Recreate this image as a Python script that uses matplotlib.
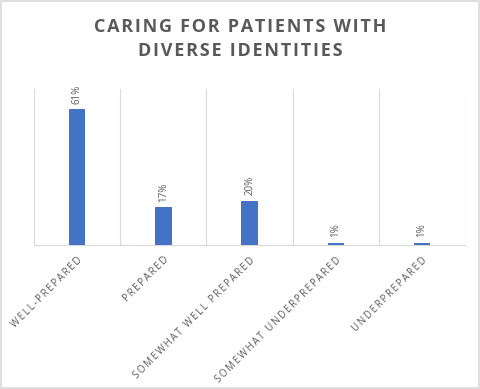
import matplotlib.pyplot as plt
import numpy as np

categories = ["WELL-PREPARED", "PREPARED", "SOMEWHAT WELL PREPARED",
              "SOMEWHAT UNDERPREPARED", "UNDERPREPARED"]
values = [0.61, 0.17, 0.20, 0.01, 0.01]
value_labels = ["61%", "17%", "20%", "1%", "1%"]
title_lines = ["CARING FOR PATIENTS WITH", "DIVERSE IDENTITIES"]

GREY = "#595959"
LINE = "#d9d9d9"
FONTS = ["Open Sans", "DejaVu Sans"]


def spaced(text, gap="\u2009"):
    # spread the letters a little, like the tracking in the original
    return gap.join(text)


fig = plt.figure(figsize=(4.8, 3.89), dpi=100)
ax = fig.add_axes([0.071, 0.370, 0.898, 0.401])

x = np.arange(len(categories))
ax.bar(x, values, width=0.19, color="#4472c4", zorder=3)

for xi, v, lab in zip(x, values, value_labels):
    ax.annotate(lab, (xi, v), xytext=(0, 4), textcoords="offset points",
                rotation=90, ha="center", va="bottom", fontsize=7,
                color=GREY, family=FONTS)

ax.set_xlim(-0.5, len(categories) - 0.5)
ax.set_ylim(0, 0.70)
ax.set_yticks([])

ax.set_xticks(x)
ax.set_xticklabels([spaced(c) for c in categories], rotation=45,
                   ha="right", va="top", rotation_mode="anchor",
                   fontsize=7, color=GREY, family=FONTS)
ax.tick_params(axis="x", length=0, pad=7)

ax.set_xticks(np.arange(len(categories) + 1) - 0.5, minor=True)
ax.tick_params(axis="x", which="minor", length=0)
ax.grid(which="minor", axis="x", color=LINE, linewidth=0.8, zorder=0)

for side in ["top", "right", "left"]:
    ax.spines[side].set_visible(False)
ax.spines["bottom"].set_color(LINE)
ax.spines["bottom"].set_linewidth(0.8)

title = "\n".join(spaced(t, "\u200a") for t in title_lines)
fig.text(0.5, 0.9, title, ha="center", va="center", fontsize=13,
         fontweight="bold", color=GREY, family=FONTS, linespacing=1.45)

fig.patches.append(plt.Rectangle((0.002, 0.002), 0.996, 0.996,
                                 transform=fig.transFigure, fill=False,
                                 edgecolor=LINE, linewidth=1.2))

fig.savefig("out.png", dpi=100)
